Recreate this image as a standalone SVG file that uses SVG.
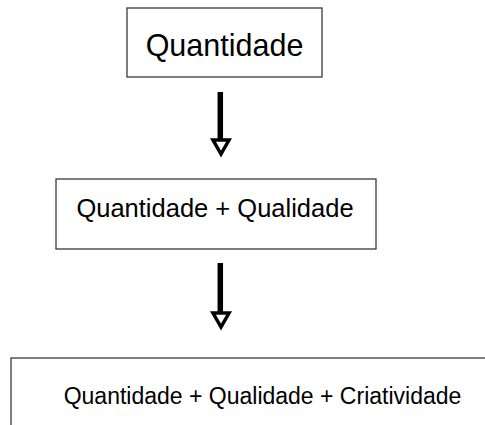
<svg xmlns="http://www.w3.org/2000/svg" width="485" height="425" viewBox="0 0 485 425">
<style>
.box{fill:#fff;stroke:#3a3a3a;stroke-width:1.3}
.t{font-family:"Liberation Sans",Arial,sans-serif;fill:#000;text-anchor:middle}
.shaft{stroke:#000;stroke-width:5.5;fill:none}
.head{fill:#fff;stroke:#000;stroke-width:3.5;stroke-linejoin:miter}
</style>
<rect width="485" height="425" fill="#fff"/>
<g id="node1">
<rect class="box" x="127" y="8" width="195" height="69"/>
<text class="t" x="224.5" y="56" font-size="30.5">Quantidade</text>
</g>
<g id="node2">
<rect class="box" x="56" y="179" width="320" height="70"/>
<text class="t" x="215" y="217" font-size="25.5">Quantidade + Qualidade</text>
</g>
<g id="node3">
<rect class="box" x="11" y="358" width="490" height="90"/>
<text class="t" x="262.5" y="404" font-size="23">Quantidade + Qualidade + Criatividade</text>
</g>
<g id="connectors">
<line class="shaft" x1="220.3" y1="92" x2="220.3" y2="140"/>
<polygon class="head" points="213,140 229,140 221,154"/>
<line class="shaft" x1="220.3" y1="263" x2="220.3" y2="313"/>
<polygon class="head" points="213,313 229,313 221,327"/>
</g>
</svg>
